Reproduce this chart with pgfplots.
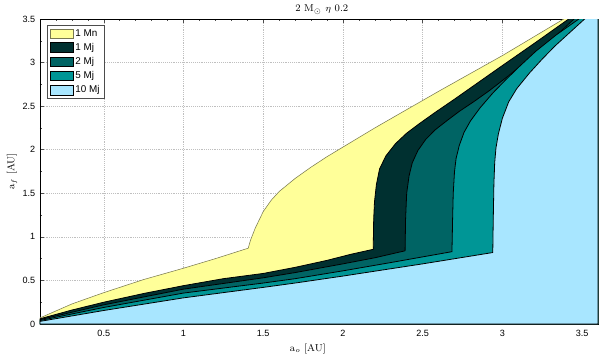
\documentclass[border=0pt]{standalone}
\usepackage{fontspec}
\setsansfont{Liberation Sans}
\usepackage{pgfplots}
\pgfplotsset{compat=1.18}
\definecolor{cY}{RGB}{255,255,153}
\definecolor{cYe}{RGB}{120,120,80}
\definecolor{cA}{RGB}{0,48,48}
\definecolor{cB}{RGB}{0,100,100}
\definecolor{cC}{RGB}{0,150,150}
\definecolor{cD}{RGB}{168,230,255}
\begin{document}
\begin{tikzpicture}
\begin{axis}[
  name=ax,
  scale only axis, width=418.5pt, height=228.75pt,
  xmin=0.1, xmax=3.6, ymin=0, ymax=3.5,
  xtick={0.5,1,1.5,2,2.5,3,3.5},
  xticklabels={0.5,1,1.5,2,2.5,3,3.5},
  ytick={0,0.5,1,1.5,2,2.5,3,3.5},
  yticklabels={0,0.5,1,1.5,2,2.5,3,3.5},
  minor xtick={0.1,0.2,0.3,0.4,0.6,0.7,0.8,0.9,1.1,1.2,1.3,1.4,1.6,1.7,1.8,1.9,2.1,2.2,2.3,2.4,2.6,2.7,2.8,2.9,3.1,3.2,3.3,3.4,3.6},
  minor ytick={0.25,0.75,1.25,1.75,2.25,2.75,3.25},
  tick align=inside, major tick length=3pt, minor tick length=1.5pt,
  tick style={black!70, line width=0.4pt},
  grid=major, major grid style={densely dotted, black!25, line width=0.4pt},
  axis line style={black, line width=0.5pt},
  ticklabel style={font=\sffamily\fontsize{6.8}{8}\selectfont},
  xticklabel style={yshift=-1pt},
  title={2 M$_\odot$ $\eta$ 0.2},
  title style={at={(axis description cs:0.505,1)}, anchor=base, yshift=-0.5pt, font=\fontsize{7.5}{9}\selectfont},
  xlabel={$\mathrm{a}_o$ [AU]},
  xlabel style={at={(axis description cs:0.48,0)}, anchor=north, inner sep=0pt, yshift=-14.5pt, font=\fontsize{7.5}{9}\selectfont},
  ylabel={$\mathrm{a}_f$ [AU]},
  ylabel style={at={(axis description cs:0,0.5)}, anchor=center, yshift=21pt, font=\fontsize{7.5}{9}\selectfont},
  legend style={at={(axis description cs:0.013,0.98)}, anchor=north west, draw=black!70, fill=white,
     font=\sffamily\fontsize{7.4}{8.5}\selectfont, inner xsep=2pt, inner ysep=1.6pt, row sep=1.2pt,
     nodes={inner sep=1.3pt}},
  legend cell align=left,
  legend image code/.code={\draw[#1] (0pt,-3.6pt) rectangle (17pt,3.6pt);},
]
% 1 Mn
\addplot[fill=cY, draw=cYe, line width=0.4pt] coordinates {
(0.1,0.07) (0.3,0.23) (0.5,0.36) (0.75,0.51) (1.0,0.64) (1.2,0.75) (1.406,0.87)
(1.42,0.96) (1.45,1.1) (1.5,1.29) (1.55,1.42) (1.6,1.52) (1.7,1.67) (1.8,1.8) (1.9,1.92) (2.0,2.03)
(2.2,2.25) (2.6,2.67) (3.0,3.08) (3.385,3.5) (3.6,3.73)} \closedcycle;
\addlegendentry{1 Mn}
% 1 Mj
\addplot[fill=cA, draw=black, line width=0.6pt] coordinates {
(0.1,0.06) (0.3,0.16) (0.5,0.25) (0.75,0.35) (1.0,0.44) (1.25,0.52) (1.5,0.58) (1.7,0.65)
(1.9,0.73) (2.05,0.8) (2.19,0.857)
(2.193,1.2) (2.198,1.4) (2.21,1.6) (2.23,1.78) (2.27,1.93) (2.33,2.07) (2.4,2.19) (2.48,2.3)
(2.58,2.43) (2.7,2.58) (2.84,2.76) (2.98,2.94) (3.2,3.22) (3.416,3.5) (3.6,3.73)} \closedcycle;
\addlegendentry{1 Mj}
% 2 Mj
\addplot[fill=cB, draw=black, line width=0.6pt] coordinates {
(0.1,0.05) (0.5,0.22) (1.0,0.40) (1.5,0.53) (1.7,0.59) (2.0,0.69) (2.2,0.76) (2.39,0.84)
(2.393,1.2) (2.4,1.5) (2.415,1.7) (2.435,1.85) (2.47,1.99) (2.52,2.12) (2.58,2.23) (2.65,2.33)
(2.73,2.44) (2.82,2.55) (2.92,2.68) (3.04,2.85) (3.18,3.06) (3.32,3.28) (3.45,3.5) (3.6,3.75)} \closedcycle;
\addlegendentry{2 Mj}
% 5 Mj
\addplot[fill=cC, draw=black, line width=0.6pt] coordinates {
(0.1,0.04) (0.5,0.19) (1.0,0.355) (1.5,0.47) (1.7,0.52) (2.0,0.61) (2.3,0.705) (2.684,0.83)
(2.688,1.2) (2.692,1.5) (2.70,1.75) (2.71,1.9) (2.73,2.05) (2.76,2.2) (2.8,2.33) (2.86,2.48)
(2.94,2.65) (3.02,2.8) (3.11,2.96) (3.21,3.13) (3.34,3.32) (3.48,3.5) (3.6,3.66)} \closedcycle;
\addlegendentry{5 Mj}
% 10 Mj
\addplot[fill=cD, draw=black, line width=0.6pt] coordinates {
(0.1,0.03) (0.5,0.155) (1.0,0.30) (1.5,0.42) (1.7,0.47) (2.0,0.55) (2.5,0.69) (2.94,0.82)
(2.943,1.2) (2.947,1.6) (2.952,1.85) (2.96,2.02) (2.975,2.18) (3.0,2.36) (3.04,2.55) (3.09,2.7)
(3.17,2.88) (3.25,3.04) (3.33,3.19) (3.42,3.34) (3.516,3.5) (3.6,3.62)} \closedcycle;
\addlegendentry{10 Mj}
\end{axis}
\pgfresetboundingbox
\path ([shift={(-30pt,-24.75pt)}]ax.south west) rectangle ([shift={(1.5pt,14.25pt)}]ax.north east);
\end{tikzpicture}
\end{document}
